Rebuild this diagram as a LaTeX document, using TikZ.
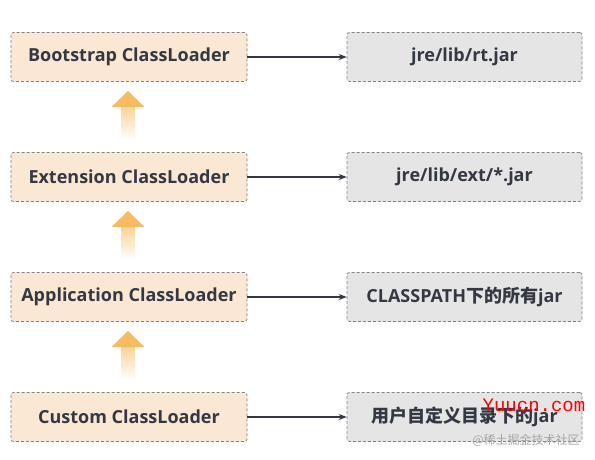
\documentclass[tikz,border=0pt]{standalone}
\usepackage{fontspec}
\setmainfont{Open Sans}[BoldFont={Open Sans Bold}]
\newfontfamily\cjk{Noto Sans CJK SC}
\newfontfamily\wmfont{Liberation Mono}
\usetikzlibrary{arrows.meta}
\definecolor{txt}{RGB}{52,56,66}
\definecolor{peach}{RGB}{250,231,212}
\definecolor{greybox}{RGB}{229,229,229}
\definecolor{bord}{RGB}{130,130,130}
\definecolor{orangehead}{RGB}{246,186,96}
\definecolor{orangeshaft}{RGB}{249,210,150}
\tikzset{
  base/.style={minimum width=236pt, minimum height=49pt, rounded corners=2.5pt,
    draw=bord, dash pattern=on 3pt off 2pt, line width=0.7pt, text=txt,
    font=\fontsize{18}{20}\selectfont\bfseries, inner sep=0pt},
  leftbox/.style={base, fill=peach},
  rightbox/.style={base, fill=greybox, minimum width=235pt},
  conn/.style={line width=1.3pt, draw=txt, -{Stealth[length=8pt,width=6pt]}},
}
\newcommand{\uparr}[2]{%
  \shade[top color=orangeshaft, bottom color=white] (#1-6.5,#2+24) rectangle (#1+6.5,#2+58);
  \fill[orangehead] (#1,#2+9) -- (#1+16.5,#2+25) -- (#1-16.5,#2+25) -- cycle;
}
\begin{document}
\begin{tikzpicture}[x=1pt,y=-1pt]
\useasboundingbox[fill=white] (0,0) rectangle (595,460);
\node[leftbox] (b) at (129,57) {Bootstrap ClassLoader};
\node[leftbox] (e) at (129,177) {Extension ClassLoader};
\node[leftbox] (a) at (129,297) {Application ClassLoader};
\node[leftbox] (c) at (129,417) {Custom ClassLoader};
\node[rightbox] (rb) at (464.5,57) {jre/lib/rt.jar};
\node[rightbox] (re) at (464.5,177) {jre/lib/ext/*.jar};
\node[rightbox] (ra) at (464.5,297) {CLASSPATH{\cjk 下的所有}jar};
\node[rightbox] (rc) at (464.5,417) {{\cjk 用户自定义目录下的}jar};
\draw[conn] (b) -- (rb);
\draw[conn] (e) -- (re);
\draw[conn] (a) -- (ra);
\draw[conn] (c) -- (rc);
\uparr{128}{82}
\uparr{128}{202}
\uparr{128}{322}
\node[text=red, font=\wmfont\fontsize{19}{20}\selectfont] (wm) at (534,405) {Yuucn.com};
\node[text=black!35, font=\cjk\fontsize{12}{13}\selectfont] (wm2) at (526,440) {@稀土掘金技术社区};
\end{tikzpicture}
\end{document}
